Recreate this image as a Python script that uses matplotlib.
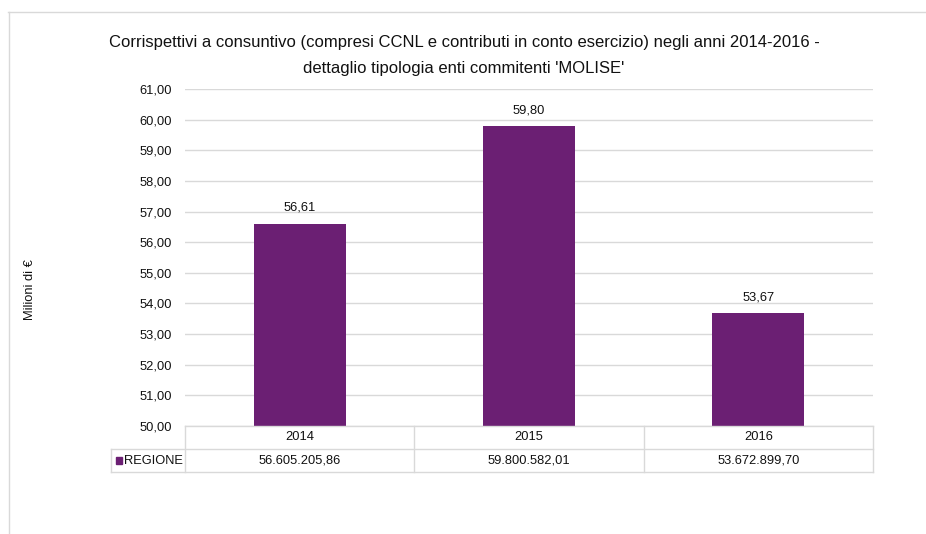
import matplotlib
matplotlib.use("Agg")
import matplotlib.pyplot as plt
from matplotlib.lines import Line2D
from matplotlib.patches import Rectangle

plt.rcParams['font.family'] = ['Liberation Sans Narrow', 'Liberation Sans', 'DejaVu Sans']

categories = ['2014', '2015', '2016']
series_name = 'REGIONE'
values_eur = [56605205.86, 59800582.01, 53672899.70]
title = "Corrispettivi a consuntivo (compresi CCNL e contributi in conto esercizio) negli anni 2014-2016 -\ndettaglio tipologia enti commitenti 'MOLISE'"
ylabel = 'Milioni di €'
ymin, ymax, ystep = 50, 61, 1

bar_color = '#6B1F73'
grid_color = '#D9D9D9'
text_color = '#111111'
fs = 9.3

def it_fmt(v, dec=2):
    s = f"{v:,.{dec}f}"
    return s.replace(',', 'X').replace('.', ',').replace('X', '.')

values_m = [v / 1e6 for v in values_eur]

W, H = 926, 534
fig = plt.figure(figsize=(W / 100, H / 100), dpi=100)
L, R, T, B = 185, 873, 89, 426
ax = fig.add_axes([L / W, 1 - B / H, (R - L) / W, (B - T) / H])

x = list(range(len(categories)))
ax.bar(x, [v - ymin for v in values_m], bottom=ymin, width=0.4, color=bar_color, zorder=3)
ax.set_xlim(-0.5, len(categories) - 0.5)
ax.set_ylim(ymin, ymax)
ticks = list(range(ymin, ymax + 1, ystep))
ax.set_yticks(ticks)
ax.set_yticklabels([it_fmt(t) for t in ticks], fontsize=fs, color=text_color)
ax.tick_params(axis='y', length=0, pad=9.5)
ax.set_xticks([])
ax.grid(axis='y', color=grid_color, linewidth=1, zorder=0)
for s in ax.spines.values():
    s.set_visible(False)

for xi, v in zip(x, values_m):
    ax.annotate(it_fmt(v), (xi, v), xytext=(0, 7), textcoords='offset points',
                ha='center', va='bottom', fontsize=fs, color=text_color)

fig.text(464 / W, 1 - 55.5 / H, title, ha='center', va='center', fontsize=12,
         color=text_color, linespacing=2.0)
fig.text(30 / W, 1 - 290 / H, ylabel, rotation=90, ha='center', va='center',
         fontsize=fs, color=text_color)

# data table (figure pixel coordinates)
def fx(px): return px / W
def fy(py): return 1 - py / H
row1, row2, row3 = 426, 449, 472
tbl_left = 111
col_edges = [L + i * (R - L) / len(categories) for i in range(len(categories) + 1)]
lines = []
lines.append(((L, R), (row1, row1)))
lines.append(((tbl_left, R), (row2, row2)))
lines.append(((tbl_left, R), (row3, row3)))
lines.append(((tbl_left, tbl_left), (row2, row3)))
for ce in col_edges:
    lines.append(((ce, ce), (row1, row3)))
for (xs, ys) in lines:
    fig.add_artist(Line2D([fx(xs[0]), fx(xs[1])], [fy(ys[0]), fy(ys[1])],
                          color=grid_color, linewidth=1))
for i, c in enumerate(categories):
    cx = (col_edges[i] + col_edges[i + 1]) / 2
    fig.text(fx(cx), fy((row1 + row2) / 2), c, ha='center', va='center', fontsize=fs, color=text_color)
    fig.text(fx(cx), fy((row2 + row3) / 2), it_fmt(values_eur[i]), ha='center', va='center',
             fontsize=fs, color=text_color)
fig.add_artist(Rectangle((fx(116), fy(464)), 6 / W, 7 / H, color=bar_color))
fig.text(fx(124), fy((row2 + row3) / 2), series_name, ha='left', va='center', fontsize=fs, color=text_color)

# outer chart border
fig.add_artist(Line2D([fx(8), fx(926)], [fy(11.5), fy(11.5)], color=grid_color, linewidth=1))
fig.add_artist(Line2D([fx(8.5), fx(8.5)], [fy(11.5), fy(534)], color=grid_color, linewidth=1))

fig.savefig('out.png', dpi=100)
